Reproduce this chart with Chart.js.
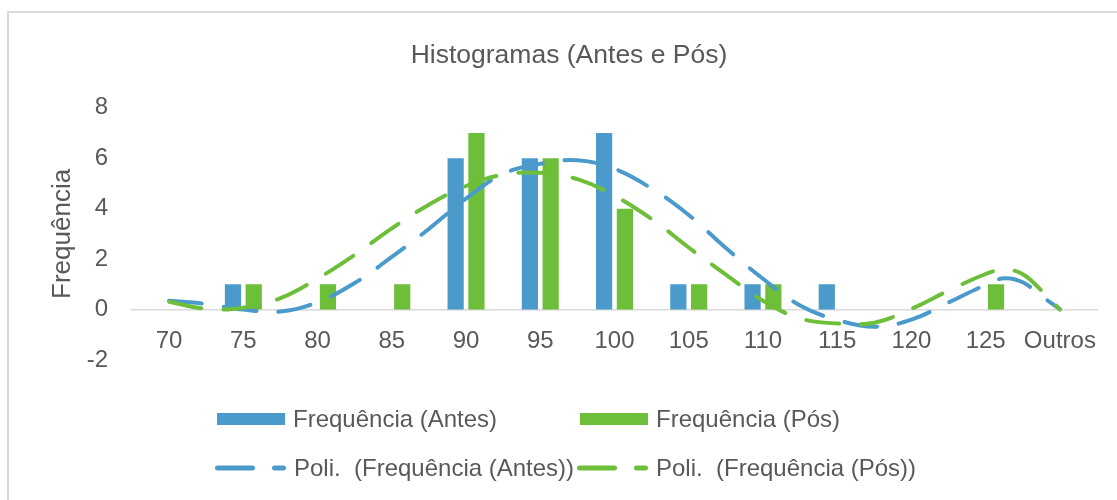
<!DOCTYPE html>
<html>
<head>
<meta charset="utf-8">
<title>Histogramas (Antes e Pós)</title>
<script src="https://cdn.jsdelivr.net/npm/chart.js@4.4.1/dist/chart.umd.min.js"></script>
<style>
  html, body { margin: 0; padding: 0; background: #fff; overflow: hidden; }
  body { width: 1117px; height: 500px; position: relative; font-family: "Liberation Sans", Arial, sans-serif; }
  .frame { position: absolute; left: 7px; top: 11px; width: 1200px; height: 600px;
           border-left: 2px solid #d9d9d9; border-top: 2px solid #d9d9d9; }
  #wrap { position: absolute; left: 0; top: 0; width: 1138px; height: 500px; }
  .legend-item { position: absolute; height: 30px; display: flex; align-items: center;
                 font-size: 24px; color: #595959; white-space: pre; }
  .legend-item .box { width: 68px; height: 12px; margin-right: 8px; }
  .legend-item svg { margin-right: 7px; }
</style>
</head>
<body>
<div class="frame"></div>
<div id="wrap"><canvas id="histChart" width="1138" height="500"></canvas></div>
<div id="legend"></div>

<script>
// categorias (classes) do histograma
const categories = ['70', '75', '80', '85', '90', '95', '100', '105', '110', '115', '120', '125', 'Outros'];

// frequências
const freqAntes = [0, 1, 0, 0, 6, 6, 7, 1, 1, 1, 0, 0, 0];
const freqPos   = [0, 1, 1, 1, 7, 6, 4, 1, 1, 0, 0, 1, 0];

// linhas de tendência polinomial (posição = índice da classe)
const trendX     = [0, 0.5, 1, 1.5, 2, 2.5, 3, 3.5, 4, 4.5, 5, 5.5, 6, 6.5, 7, 7.5, 8, 8.5, 9, 9.5, 10, 10.5, 11, 11.25, 11.5, 11.75, 12];
const trendAntes = [0.35, 0.22, 0.0, -0.08, 0.29, 1.05, 2.09, 3.2, 4.4, 5.38, 5.78, 5.92, 5.58, 4.8, 3.75, 2.44, 1.22, 0.16, -0.41, -0.68, -0.4, 0.28, 0.98, 1.24, 1.08, 0.53, 0.02];
const trendPos   = [0.31, 0.03, 0.07, 0.45, 1.23, 2.17, 3.22, 4.16, 4.9, 5.35, 5.42, 5.17, 4.51, 3.59, 2.46, 1.39, 0.35, -0.35, -0.55, -0.52, 0.03, 0.75, 1.41, 1.59, 1.4, 0.76, 0.0];

const yTicks = [-2, 0, 2, 4, 6, 8];

const BLUE = '#4a9bcb';
const GREEN = '#6dbe38';
const TEXT = '#595959';

Chart.defaults.font.family = '"Liberation Sans", Arial, sans-serif';
Chart.defaults.color = TEXT;

const toPoints = (xs, ys) => xs.map((x, i) => ({ x: x, y: ys[i] }));

// as linhas entram na contagem de grupos das barras (4 vagas), daí o 1.12
const barStyle = { categoryPercentage: 1.12, barPercentage: 0.78, order: 2, xAxisID: 'x' };
const trendStyle = { xAxisID: 'xt', borderWidth: 4, borderDash: [33, 22], borderCapStyle: 'round',
                     pointRadius: 0, tension: 0.4, fill: false };

const datasets = [
    Object.assign({ type: 'line', label: 'Poli.  (Frequência (Pós))', data: toPoints(trendX, trendPos),
                    borderColor: GREEN, order: 0 }, trendStyle),
    Object.assign({ type: 'line', label: 'Poli.  (Frequência (Antes))', data: toPoints(trendX, trendAntes),
                    borderColor: BLUE, order: 1 }, trendStyle),
    Object.assign({ type: 'bar', label: 'Frequência (Antes)', data: freqAntes, backgroundColor: BLUE }, barStyle),
    Object.assign({ type: 'bar', label: 'Frequência (Pós)', data: freqPos, backgroundColor: GREEN }, barStyle)
];

const chart = new Chart(document.getElementById('histChart'), {
    type: 'bar',
    data: { labels: categories, datasets: datasets },
    options: {
        responsive: false,
        animation: false,
        layout: { padding: { left: 0, right: 0, top: 0, bottom: 140 } },
        plugins: {
            legend: { display: false },
            tooltip: { enabled: false },
            title: {
                display: true,
                text: 'Histogramas (Antes e Pós)',
                color: TEXT,
                font: { size: 26.5, weight: 'normal' },
                padding: { top: 40, bottom: 36 }
            }
        },
        scales: {
            x: {
                type: 'category',
                position: { y: 0 },
                offset: true,
                grid: { display: false, drawTicks: false },
                border: { display: true, color: '#d9d9d9', width: 1.5 },
                ticks: { color: TEXT, font: { size: 24 }, padding: 17, maxRotation: 0, autoSkip: false }
            },
            xt: {
                type: 'linear',
                display: false,
                offset: false,
                min: -0.5,
                max: 12.5
            },
            y: {
                min: -2,
                max: 8,
                afterFit: (scale) => { scale.width = 132; },
                afterBuildTicks: (scale) => { scale.ticks = yTicks.map(v => ({ value: v })); },
                grid: { display: false, drawTicks: false },
                border: { display: false },
                ticks: { color: TEXT, font: { size: 24 }, padding: 24 },
                title: {
                    display: true,
                    text: 'Frequência',
                    color: TEXT,
                    font: { size: 26, weight: 'normal' },
                    padding: { top: 47, bottom: 0 }
                }
            },
            // eixo vazio à direita só para reservar a margem do Excel
            yr: {
                position: 'right',
                afterFit: (scale) => { scale.width = 41; },
                grid: { display: false, drawTicks: false },
                border: { display: false },
                ticks: { display: false }
            }
        }
    }
});

// legenda em duas colunas, como no Excel
function lineIcon(color) {
    return '<svg width="72" height="10"><path d="M2.5,5 H68.5" stroke="' + color +
        '" stroke-width="5" stroke-linecap="round" stroke-dasharray="35 22" fill="none"/></svg>';
}
const legendItems = [
    { label: datasets[2].label, icon: '<div class="box" style="background:' + BLUE + '"></div>', left: 217, top: 404 },
    { label: datasets[3].label, icon: '<div class="box" style="background:' + GREEN + '"></div>', left: 580, top: 404 },
    { label: datasets[1].label, icon: lineIcon(BLUE), left: 215, top: 453 },
    { label: datasets[0].label, icon: lineIcon(GREEN), left: 577, top: 453 }
];
const legendEl = document.getElementById('legend');
legendItems.forEach(item => {
    const div = document.createElement('div');
    div.className = 'legend-item';
    div.style.left = item.left + 'px';
    div.style.top = item.top + 'px';
    div.innerHTML = item.icon;
    const span = document.createElement('span');
    span.textContent = item.label;
    div.appendChild(span);
    legendEl.appendChild(div);
});
</script>
</body>
</html>
